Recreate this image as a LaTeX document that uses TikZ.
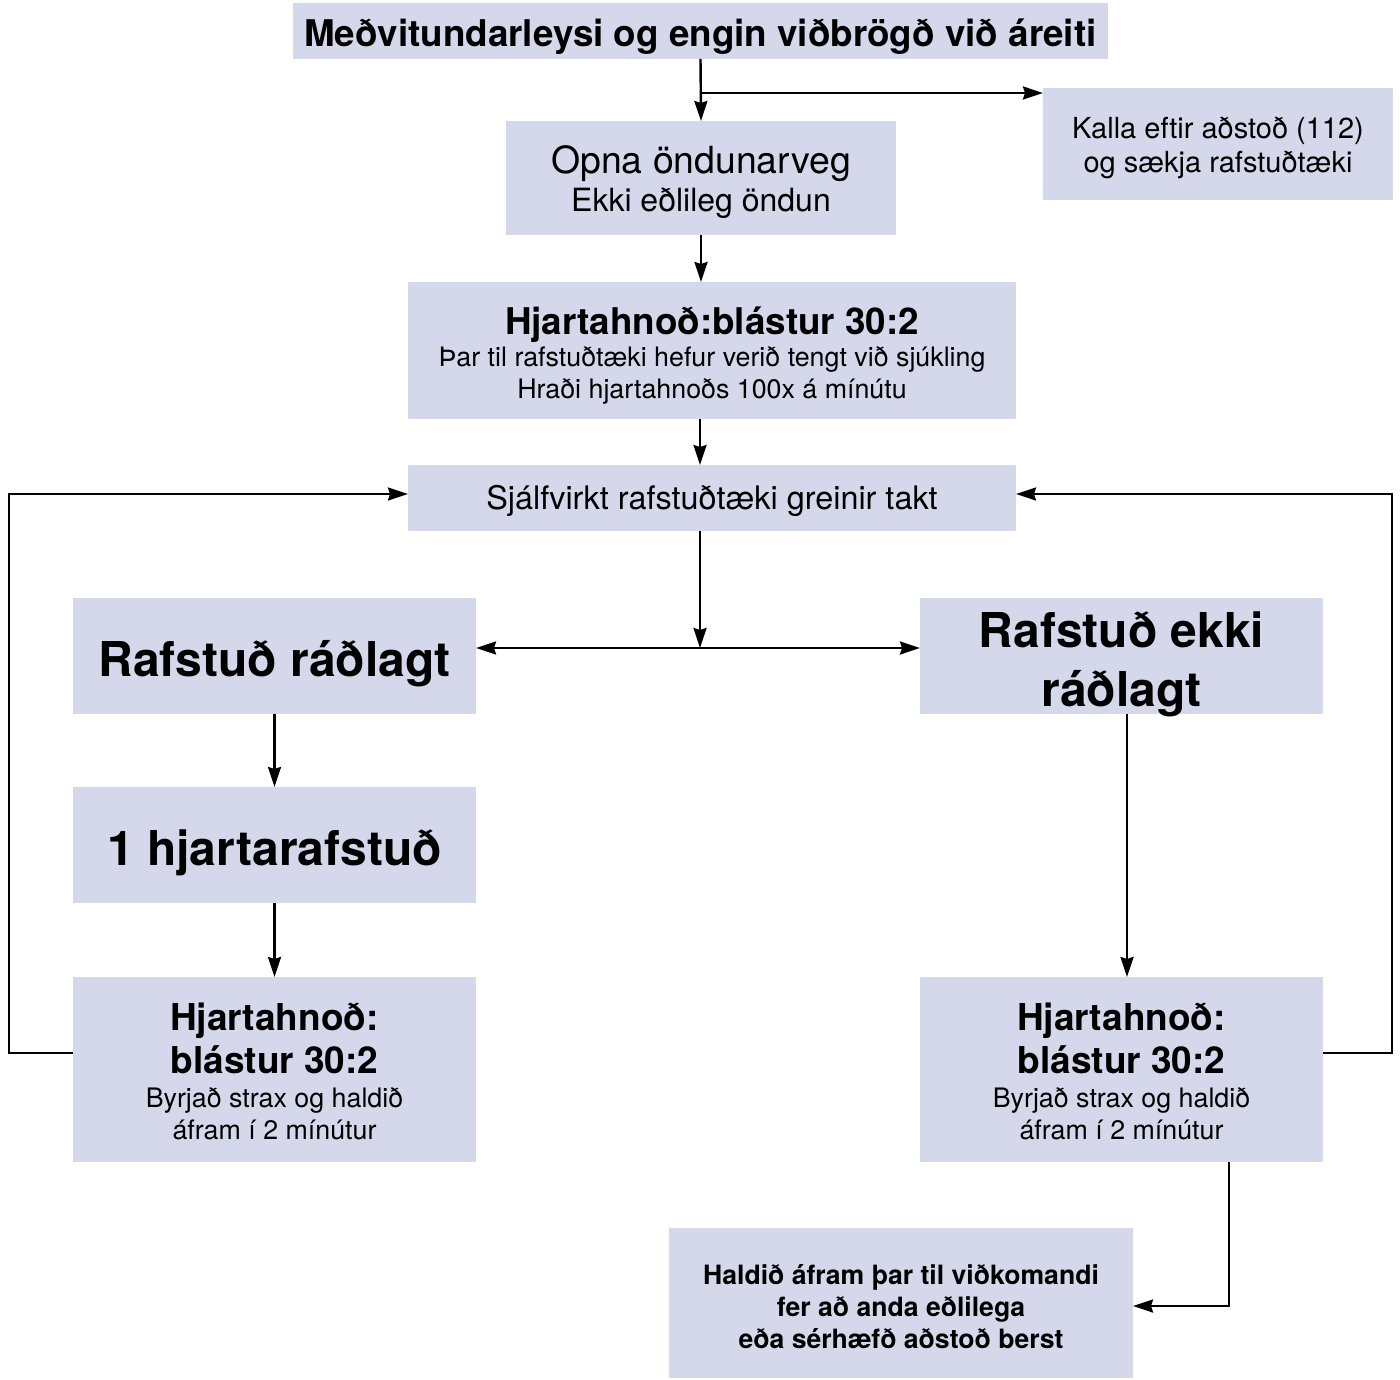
\documentclass[tikz,border=0pt]{standalone}
\usepackage{fontspec}
\setmainfont{TeX Gyre Heros}
\usetikzlibrary{arrows.meta}

\definecolor{boxblue}{RGB}{212,216,234}
\newcommand\lift[1]{\rule{0pt}{#1}}

\begin{document}
\begin{tikzpicture}[
    x=0.5pt, y=-0.5pt,
    >={Stealth[length=10pt, width=6.5pt, inset=1pt]},
    box/.style={
        fill=boxblue,
        inner sep=0,
        outer sep=0,
        align=center,
        text=black
    },
    wide/.style={box, minimum width=201.5pt, minimum height=58pt},
    arr/.style={line width=1.2pt, ->}
]

\useasboundingbox (0, 0) rectangle (1400, 1379);

\node[box, minimum width=407.5pt, minimum height=28pt,
      font=\bfseries\fontsize{18.4}{22}\selectfont] (top) at (700.5, 31)
    {\lift{20pt}Meðvitundarleysi og engin viðbrögð við áreiti};
\node[box, minimum width=195pt, minimum height=57pt,
      font=\fontsize{16}{19}\selectfont] (opna) at (701, 178)
    {\lift{18.3pt}{\fontsize{18.7}{19}\selectfont Opna öndunarveg}\\Ekki eðlileg öndun};
\node[box, minimum width=175pt, minimum height=56pt,
      font=\fontsize{14.5}{17}\selectfont] (kalla) at (1218, 144)
    {\lift{14.2pt}Kalla eftir aðstoð (112)\\og sækja rafstuðtæki};
\node[box, minimum width=304pt, minimum height=68.5pt,
      font=\fontsize{13.4}{16}\selectfont] (hjarta) at (712, 350.5)
    {\lift{18.6pt}{\bfseries\fontsize{18.4}{16}\selectfont Hjartahnoð:blástur 30:2}\\
     Þar til rafstuðtæki hefur verið tengt við sjúkling\\
     Hraði hjartahnoðs 100x á mínútu};
\node[box, minimum width=304pt, minimum height=33pt,
      font=\fontsize{16.2}{19}\selectfont] (sjalf) at (712, 498)
    {\lift{15pt}Sjálfvirkt rafstuðtæki greinir takt};

% greinar
\node[wide, font=\bfseries\fontsize{24}{29.5}\selectfont] (rad) at (274.5, 656)
    {\lift{25.8pt}Rafstuð ráðlagt};
\node[wide, font=\bfseries\fontsize{24}{29.5}\selectfont,
      text height=50pt, text depth=0pt] (ekki) at (1121.5, 656)
    {Rafstuð ekki\\ráðlagt};
\node[wide, font=\bfseries\fontsize{24}{29.5}\selectfont] (eitt) at (274.5, 845)
    {\lift{25.8pt}1 hjartarafstuð};
\foreach \side/\x in {L/274.5, R/1121.5}{
    \node[wide, minimum height=92.5pt, font=\fontsize{13.4}{16}\selectfont]
        (hnod\side) at (\x, 1069.5)
        {\lift{15.7pt}{\bfseries\fontsize{18.5}{16}\selectfont Hjartahnoð:}\\[3pt]
         {\bfseries\fontsize{18.5}{16}\selectfont blástur 30:2}\\[1pt]
         Byrjað strax og haldið\\áfram í 2 mínútur};
}
\node[box, minimum width=232pt, minimum height=75pt,
      font=\bfseries\fontsize{13.3}{16}\selectfont] (haldid) at (901, 1303)
    {\lift{13.3pt}Haldið áfram þar til viðkomandi\\fer að anda eðlilega\\eða sérhæfð aðstoð berst};

\coordinate (branch) at (700, 93);
\coordinate (split) at (700, 648);
\coordinate (loopL) at (9, 494);
\coordinate (loopR) at (1392, 494);
\coordinate (backL) at (9, 1053);
\coordinate (backR) at (1392, 1053);
\coordinate (dropR) at (1127, 0);
\coordinate (turn) at (1229, 1306);

% tengingar
\draw[arr] (top.south) -- (opna.north);
\draw[arr] (branch) -- (branch -| kalla.west);
\draw[arr] (opna.south) -- (opna.south |- hjarta.north);
\draw[arr] (hjarta.south -| branch) -- (sjalf.north -| branch);
\draw[arr] (sjalf.south -| split) -- (split);
\draw[arr, <->] (rad.east |- split) -- (ekki.west |- split);
\draw[arr] (rad.south) -- (eitt.north);
\draw[arr] (eitt.south) -- (hnodL.north);
\draw[arr] (hnodL.west |- backL) -- (backL) -- (loopL) -- (loopL -| sjalf.west);
\draw[arr] (hnodR.east |- backR) -- (backR) -- (loopR) -- (loopR -| sjalf.east);
\draw[arr] (ekki.south -| dropR) -- (hnodR.north -| dropR);
\draw[arr] (hnodR.south -| turn) -- (turn) -- (turn -| haldid.east);

\end{tikzpicture}
\end{document}
